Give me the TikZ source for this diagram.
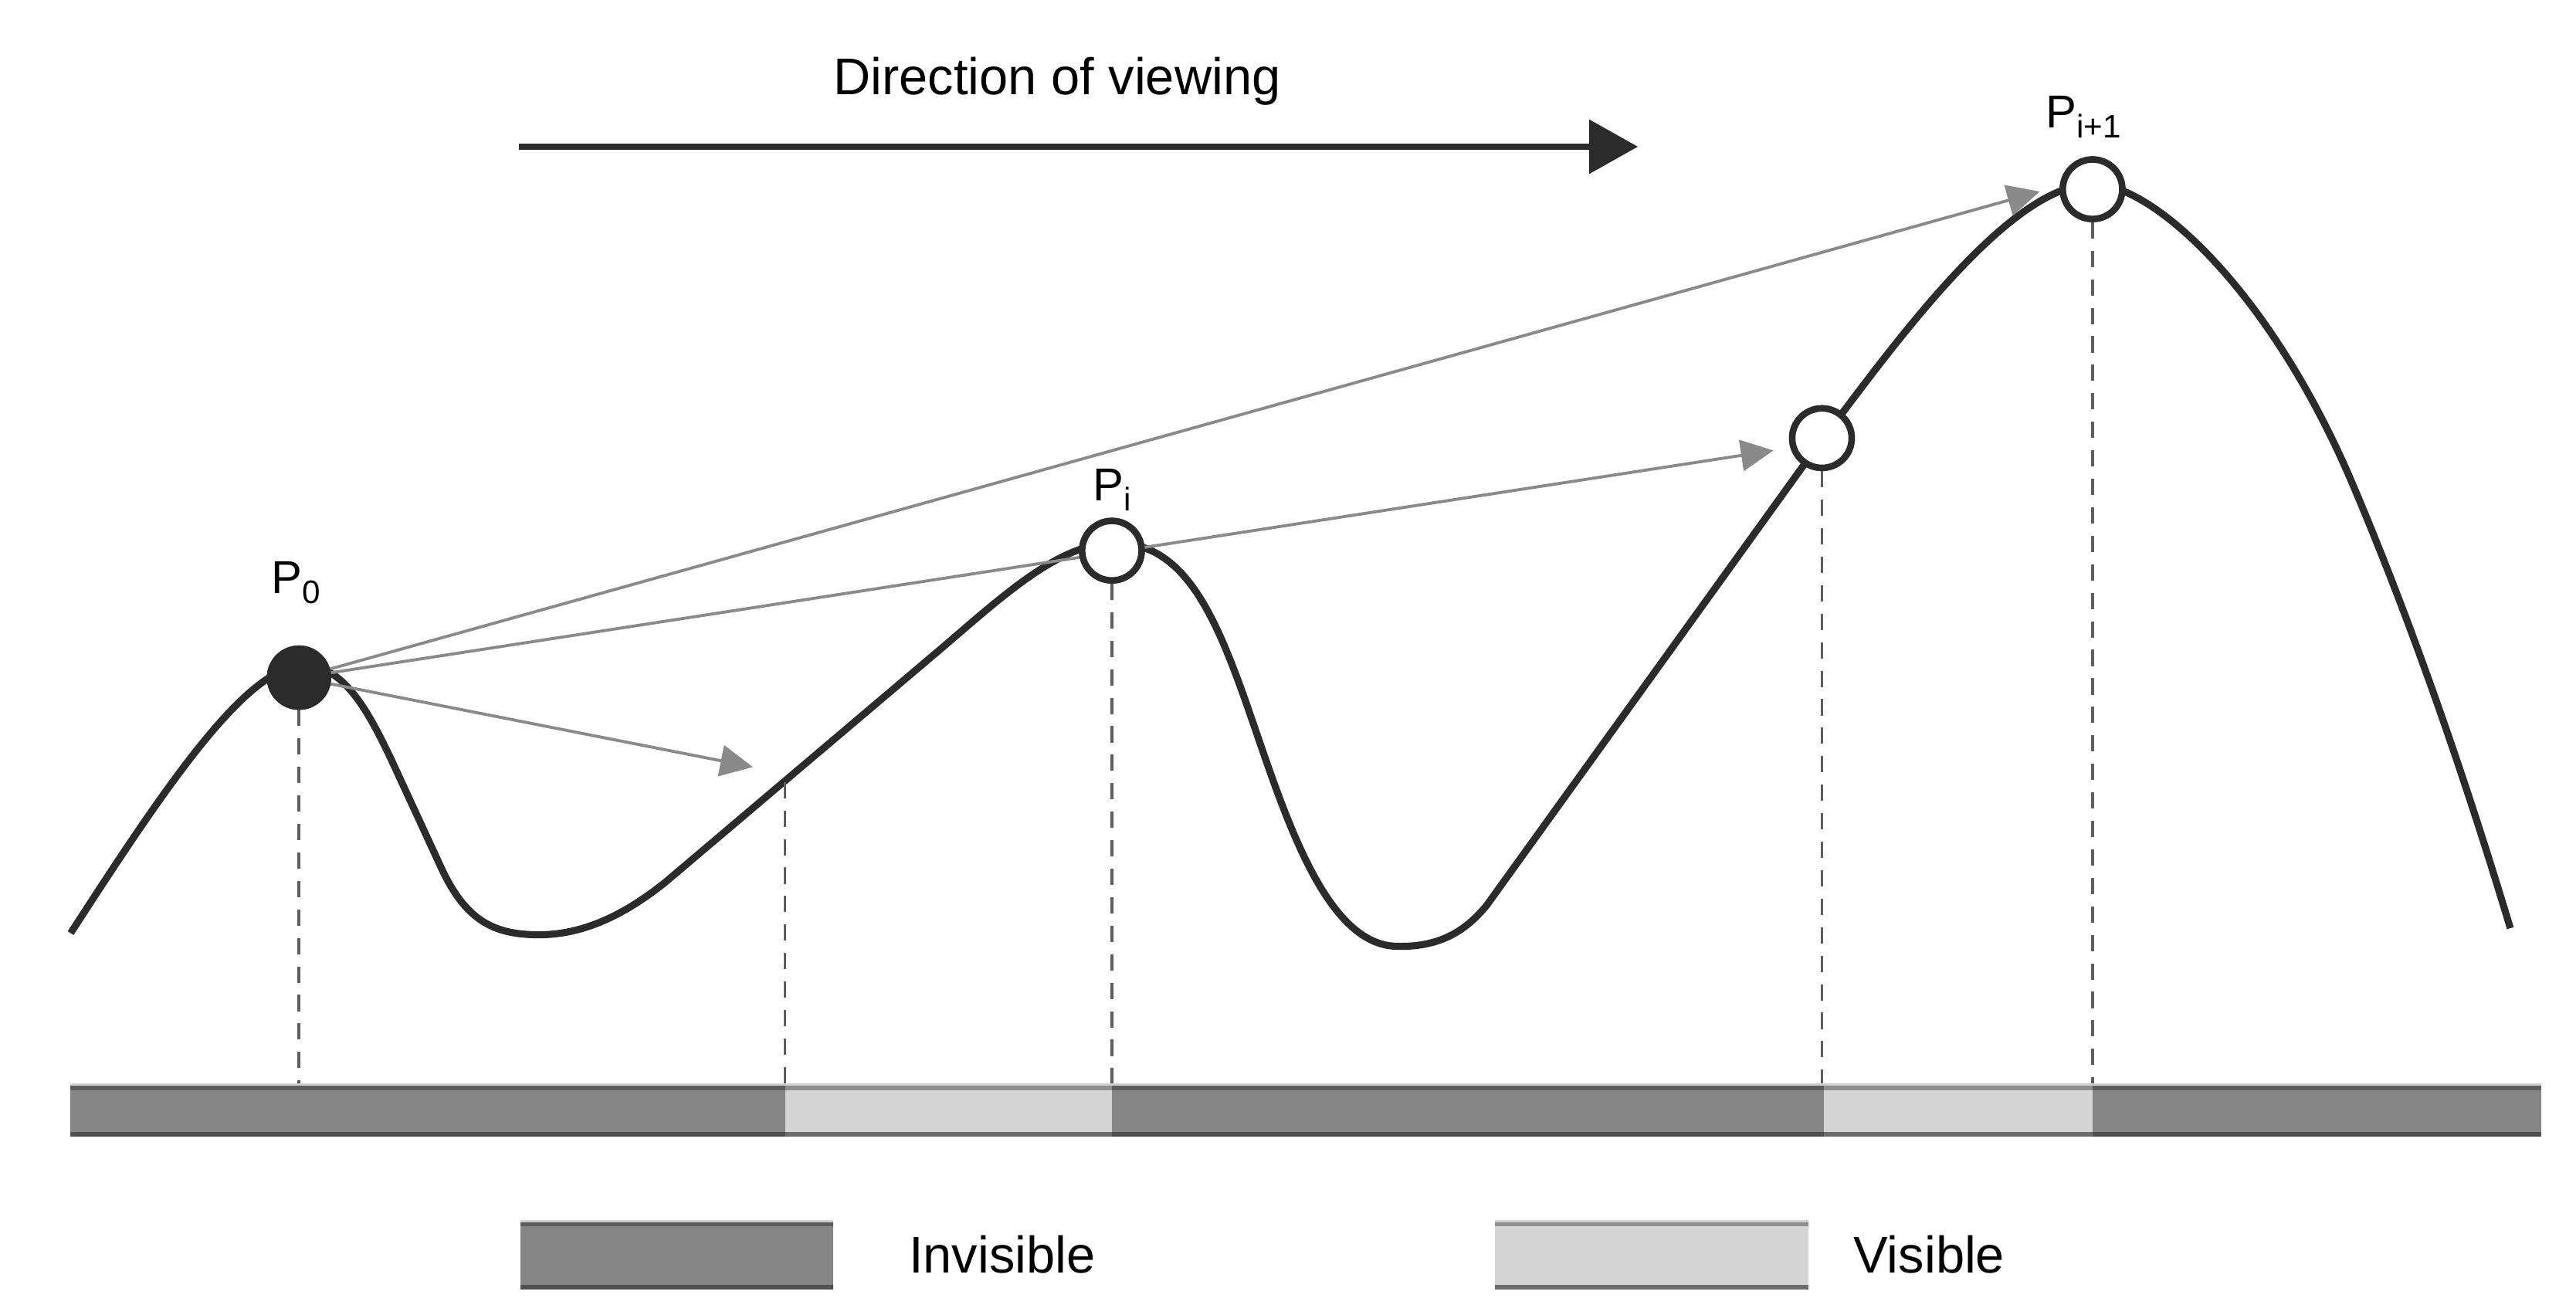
\documentclass[tikz,border=0pt]{standalone}
\usepackage{fontspec}
\setmainfont{Liberation Sans}
\usetikzlibrary{arrows.meta}
\definecolor{ink}{HTML}{2B2B2B}
\definecolor{raygray}{HTML}{8A8A8A}
\definecolor{dashc}{HTML}{5E5E5E}
\definecolor{invfill}{HTML}{868686}
\definecolor{visfill}{HTML}{D5D5D5}
\definecolor{invedge}{HTML}{5C5C5C}
\definecolor{visedge}{HTML}{8E8E8E}
\definecolor{invbotc}{HTML}{505050}
\definecolor{visbotc}{HTML}{6C6C6C}
\definecolor{topstrip}{HTML}{D0D0D0}
\newcommand\mysub[1]{\raisebox{-3.8pt}{\fontsize{12}{14}\selectfont #1}}
\begin{document}
\begin{tikzpicture}[x=0.0212755cm,y=-0.0212755cm,
  curve/.style={draw=ink,line width=2.6pt,line join=round},
  ptfull/.style={circle,draw=ink,fill=ink,line width=2.4pt,minimum size=0.75cm,inner sep=0pt},
  ptopen/.style={circle,draw=ink,fill=white,line width=2.4pt,minimum size=0.77cm,inner sep=0pt},
  ray/.style={draw=raygray,line width=1.1pt,-{Triangle[length=12pt,width=11.5pt]}},
  drop/.style={draw=dashc,line width=1pt,dash pattern=on 6pt off 4.5pt},
  bigarrow/.style={draw=ink,line width=2.5pt,-{Triangle[length=18pt,width=19.5pt]}},
  lbl/.style={anchor=base west,inner sep=0pt,font=\fontsize{19}{22}\selectfont},
  plbl/.style={anchor=base west,inner sep=0pt,font=\fontsize{17}{20}\selectfont},
  invseg/.style={fill=invfill},
  visseg/.style={fill=visfill},
  invtop/.style={draw=invedge,line width=1.5pt},
  vistop/.style={draw=visedge,line width=1.5pt},
  invbot/.style={draw=invbotc,line width=1.6pt},
  visbot/.style={draw=visbotc,line width=1.6pt},
  strip/.style={draw=topstrip,line width=1pt}
]
\useasboundingbox (0,0) rectangle (1568,800.44);

% terrain profile
\draw[curve] (43,568) .. controls (100,480) and (150,405) .. (185,405)
  .. controls (210,405) and (225,435) .. (238,462)
  -- (268,527) .. controls (283,560) and (300,569) .. (328,569)
  .. controls (355,569) and (380,557) .. (405,537)
  -- (575,393) .. controls (610,363) and (645,331) .. (676,331)
  .. controls (715,328) and (735,365) .. (752,410)
  .. controls (775,470) and (800,575) .. (850,576)
  .. controls (880,577) and (895,563) .. (905,551)
  -- (1098,283) .. controls (1150,213) and (1222,112) .. (1274,112)
  .. controls (1310,112) and (1380,175) .. (1430,290)
  .. controls (1475,395) and (1510,505) .. (1528,565);

% points
\node[ptfull] (p0) at (182,412.5) {};
\node[ptopen] (pi) at (676.8,335.2) {};
\node[ptopen] (pm) at (1109,266.7) {};
\node[ptopen] (pn) at (1273.7,115.2) {};

% drop lines
\coordinate (c1) at (477.8,476);
\coordinate (b0) at (182,660);
\coordinate (b1) at (477.8,660);
\coordinate (b2) at (676.8,660);
\coordinate (b3) at (1109,660);
\coordinate (b4) at (1273.7,660);
\draw[drop] (p0.south) -- (b0);
\draw[drop] (c1) -- (b1);
\draw[drop] (pi.south) -- (b2);
\draw[drop] (pm.south) -- (b3);
\draw[drop] (pn.south) -- (b4);

% sight rays
\coordinate (ta) at (1241.6,116.6);
\coordinate (tb) at (1079.5,274.2);
\coordinate (tc) at (458.3,466.9);
\draw[ray] (p0) -- (ta);
\draw[ray] (p0) -- (tb);
\draw[ray] (p0) -- (tc);

% redraw points on top
\node[ptfull] at (p0) {};
\node[ptopen] at (pi) {};
\node[ptopen] at (pm) {};
\node[ptopen] at (pn) {};

% labels
\node[plbl] (l0) at (165,361) {P\mysub{0}};
\node[plbl] (li) at (665,304.6) {P\mysub{i}};
\node[plbl] (ln) at (1245,77.6) {P\mysub{i+1}};

% direction arrow
\node[lbl] (dir) at (507,57.8) {Direction of viewing};
\coordinate (ds) at (316,89.3);
\coordinate (de) at (997,89.3);
\draw[bigarrow] (ds) -- (de);

% visibility bar
\fill[invseg] (43,660) rectangle (477.8,692);
\fill[visseg] (477.8,660) rectangle (676.8,692);
\fill[invseg] (676.8,660) rectangle (1110,692);
\fill[visseg] (1110,660) rectangle (1273.7,692);
\fill[invseg] (1273.7,660) rectangle (1547,692);
\draw[strip] (43,660.3) -- (1547,660.3);
\draw[invtop] (43,662.3) -- (477.8,662.3);
\draw[vistop] (477.8,662.3) -- (676.8,662.3);
\draw[invtop] (676.8,662.3) -- (1110,662.3);
\draw[vistop] (1110,662.3) -- (1273.7,662.3);
\draw[invtop] (1273.7,662.3) -- (1547,662.3);
\draw[invbot] (43,690.6) -- (477.8,690.6);
\draw[visbot] (477.8,690.6) -- (676.8,690.6);
\draw[invbot] (676.8,690.6) -- (1110,690.6);
\draw[visbot] (1110,690.6) -- (1273.7,690.6);
\draw[invbot] (1273.7,690.6) -- (1547,690.6);

% legend
\fill[invseg] (317,743) rectangle (507,785);
\draw[strip] (317,743.3) -- (507,743.3);
\draw[invtop] (317,745.3) -- (507,745.3);
\draw[invbot] (317,783.6) -- (507,783.6);
\node[lbl] (tinv) at (553,775) {Invisible};
\fill[visseg] (910,743) rectangle (1101,785);
\draw[strip] (910,743.3) -- (1101,743.3);
\draw[vistop] (910,745.3) -- (1101,745.3);
\draw[visbot] (910,783.6) -- (1101,783.6);
\node[lbl] (tvis) at (1128,775) {Visible};
\end{tikzpicture}
\end{document}
